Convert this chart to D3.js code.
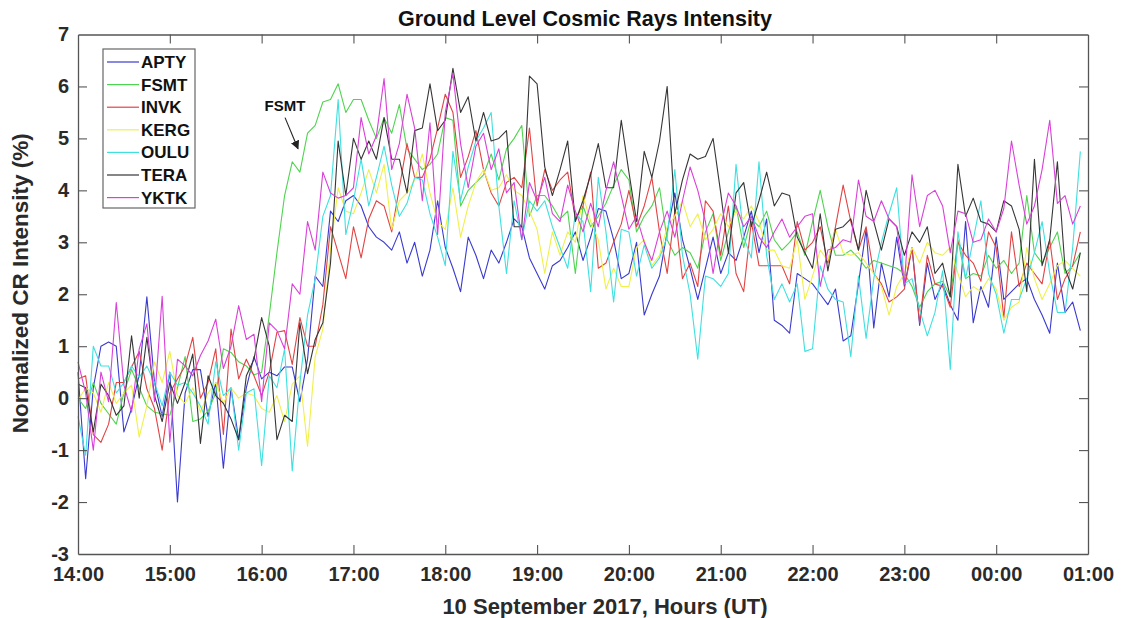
<!DOCTYPE html>
<html>
<head>
<meta charset="utf-8">
<script src="https://cdn.jsdelivr.net/npm/d3@7"></script>
<style>
  body { margin: 0; background: #fff; }
  svg text { font-family: "Liberation Sans", Arial, sans-serif; font-weight: bold; }
</style>
</head>
<body>
<div class="container"></div>
<script>
// 5-minute samples from 14:00 UT, 10 Sept 2017 (minutes after 14:00)
const stepMin = 5;
const tickLabels = ['14:00','15:00','16:00','17:00','18:00','19:00','20:00','21:00','22:00','23:00','00:00','01:00'];
const stations = ['APTY','FSMT','INVK','KERG','OULU','TERA','YKTK'];
const lineColors = ['#3a3acf','#4fd44f','#e04444','#f0f04a','#3fe0e0','#363636','#d940d9'];

const APTY = [0.5,-1.55,0.2,1.0,1.08,1.0,-0.65,-0.2,0.45,1.95,0.3,-0.35,
  0.5,-2.0,0.1,0.55,0.55,-0.35,0.3,-1.35,0.2,-0.8,0.2,0.8,
  0.37,0.5,0.43,0.6,0.6,-0.07,0.75,2.35,2.15,3.6,3.4,3.8,
  3.9,3.7,3.3,3.1,3.0,2.85,3.2,2.6,3.0,2.35,2.85,3.8,
  2.9,2.5,2.05,3.1,2.75,2.3,2.85,2.6,3.0,3.45,3.3,2.7,
  2.4,2.1,2.55,2.65,2.9,3.2,2.65,3.1,3.65,3.6,3.05,2.3,
  2.4,3.0,1.6,2.0,2.35,3.2,3.95,3.05,2.5,1.9,2.5,3.1,
  2.4,2.8,2.65,3.1,3.6,2.8,3.45,1.5,1.4,1.25,2.4,2.3,
  2.2,2.0,1.8,2.1,1.1,1.2,2.2,3.25,1.35,2.6,1.95,3.1,
  2.15,2.9,1.4,2.6,1.9,2.2,1.8,1.5,3.4,1.45,2.15,1.75,
  3.1,1.9,2.05,2.2,2.3,1.9,1.6,1.25,2.6,1.65,1.85,1.3];

const FSMT = [0.0,-0.2,0.3,-0.1,-0.3,-0.5,0.1,0.55,0.2,-0.15,-0.27,-0.3,
  -0.33,0.2,0.8,-0.45,-0.4,-0.25,0.1,0.95,0.88,0.7,0.62,0.45,
  0.5,1.6,2.8,3.9,4.55,4.35,5.1,5.25,5.7,5.75,6.05,5.5,
  5.75,5.75,5.35,5.0,5.4,5.1,5.65,4.8,4.6,4.4,4.5,4.7,
  5.4,5.35,3.7,4.0,4.15,4.3,4.7,4.2,4.8,5.0,5.25,3.5,
  3.9,3.9,3.7,3.45,3.6,2.4,3.7,3.3,3.5,3.75,4.1,4.4,
  4.2,3.2,3.5,3.7,4.05,3.05,2.75,2.9,2.8,2.5,3.2,3.55,
  2.65,3.2,3.7,2.9,3.45,3.3,3.6,3.05,2.85,3.0,3.2,2.75,
  3.4,4.0,3.3,2.75,2.75,2.85,2.7,2.5,2.65,2.6,2.55,2.5,
  2.4,2.15,1.75,2.05,2.2,2.25,1.95,3.05,2.3,2.4,2.35,2.75,
  2.5,2.65,2.4,2.6,3.9,2.8,2.6,2.9,3.2,2.4,2.55,2.8];

const INVK = [0.37,0.43,-0.7,-0.85,-0.5,0.3,0.3,0.6,0.9,0.18,-0.2,-1.0,
  0.1,0.37,0.62,1.17,0.0,0.3,0.95,-0.7,1.33,0.37,0.75,0.43,
  0.05,0.5,1.27,1.3,0.65,1.55,1.0,1.0,1.8,3.3,2.8,2.3,
  3.3,2.7,3.45,3.8,3.7,3.2,4.05,4.9,4.25,4.25,4.6,5.2,
  5.85,5.5,4.25,4.65,5.15,4.4,3.95,3.7,4.15,4.25,4.05,5.2,
  3.7,4.4,4.0,4.2,4.35,3.45,3.7,4.35,2.5,2.6,3.0,3.35,
  4.0,3.3,3.7,4.25,3.2,2.4,3.6,2.3,2.6,2.15,3.8,3.6,
  2.75,3.7,2.4,2.05,3.4,2.55,2.55,2.55,2.55,2.2,3.4,2.85,
  3.0,3.3,2.6,3.3,4.1,3.4,2.85,3.3,2.4,2.2,1.85,1.95,
  2.1,2.9,1.45,2.75,2.2,2.15,1.75,3.0,2.75,2.6,2.25,3.2,
  2.9,1.55,3.2,2.15,2.6,2.4,2.2,3.05,1.9,2.3,2.55,3.2];

const KERG = [-0.05,0.2,0.1,-0.27,0.3,-0.1,0.1,0.25,-0.75,-0.15,0.7,0.3,
  0.9,0.05,-0.1,0.2,-0.27,0.1,0.3,-0.1,0.2,0.0,0.1,0.05,
  -0.2,-0.27,0.05,-0.45,0.27,0.43,-0.93,0.8,1.33,2.85,4.05,3.6,
  3.55,3.95,4.4,3.95,4.5,3.25,3.8,3.95,4.2,4.7,3.95,3.4,
  3.25,4.05,3.1,3.7,4.15,4.4,4.0,4.05,4.3,4.0,3.9,3.6,
  3.25,2.4,3.2,2.75,3.2,3.0,3.9,3.4,3.05,2.1,2.5,2.15,
  2.15,2.9,3.05,2.55,2.75,3.3,3.5,3.8,3.3,3.55,3.05,3.25,
  3.55,3.3,3.6,3.45,3.7,3.4,2.85,2.85,2.55,2.5,3.05,1.9,
  2.35,2.85,2.65,3.25,2.8,2.75,2.8,2.6,2.4,2.15,1.6,2.15,
  2.4,2.9,2.6,3.0,2.8,2.75,2.9,2.4,1.95,2.15,2.05,2.3,
  2.1,1.5,1.75,1.85,2.9,2.3,1.9,2.2,2.55,2.65,2.5,2.35];

const OULU = [-0.35,-1.1,1.0,0.62,0.62,0.1,0.3,0.62,0.4,0.62,0.3,-0.15,
  0.5,0.25,0.3,0.1,-0.15,-0.5,0.7,0.05,0.2,-1.0,0.1,0.18,
  -1.3,0.43,0.2,0.95,-1.4,0.3,1.6,2.3,3.5,3.9,5.75,3.15,
  3.8,4.6,3.7,4.25,4.85,4.1,3.5,3.75,4.25,4.2,3.55,3.1,
  2.55,4.75,3.8,4.45,4.95,5.2,5.5,3.7,2.4,3.8,3.05,3.8,
  3.6,3.8,3.3,2.9,2.5,3.55,3.4,2.05,4.25,3.2,1.85,3.25,
  3.2,2.35,2.95,2.5,2.7,3.1,4.4,2.75,2.0,0.75,2.35,2.3,
  2.15,2.4,4.5,3.1,2.7,4.55,2.75,1.9,2.2,1.85,2.2,0.9,
  0.95,2.55,2.1,1.9,1.85,0.8,2.35,1.15,2.3,3.0,3.55,4.05,
  2.2,2.3,1.7,1.2,1.65,2.45,0.55,3.2,2.3,3.05,3.8,2.4,
  2.0,1.25,1.9,1.9,2.3,2.8,3.4,2.4,1.65,1.65,2.9,4.75];

const TERA = [0.27,0.2,-0.65,0.27,0.05,-0.33,-0.15,1.2,0.0,1.17,0.05,-0.45,
  0.3,-0.1,0.3,0.85,-0.87,0.43,0.05,-0.1,-0.4,-0.8,0.43,0.75,
  1.55,1.0,-0.8,-0.33,-0.45,1.45,0.47,1.13,1.45,2.6,4.95,3.9,
  5.0,4.6,4.95,4.6,5.4,4.6,4.6,3.95,5.15,5.2,6.05,5.15,
  5.35,6.35,5.5,5.8,4.95,5.5,4.95,5.0,5.15,3.3,3.3,6.2,
  6.05,4.45,3.9,4.4,4.95,3.4,3.8,4.3,4.9,4.05,4.05,5.35,
  4.35,3.4,4.75,4.25,4.95,6.0,3.55,4.2,4.7,4.6,4.65,5.0,
  3.95,2.8,3.95,4.15,3.3,3.8,4.35,3.7,3.95,3.9,3.1,2.8,
  2.5,3.55,2.45,3.25,3.3,3.45,2.85,4.0,3.4,2.85,3.45,3.3,
  2.75,3.2,3.0,3.3,2.4,2.6,1.95,4.5,3.5,3.85,3.4,3.35,
  3.2,3.8,3.7,3.25,2.05,4.6,2.55,3.05,4.55,2.5,2.1,2.8];

const YKTK = [0.7,0.1,-1.0,0.5,-0.07,1.84,0.25,-0.27,0.95,1.43,-0.07,1.96,
  -0.85,0.75,0.62,0.43,0.82,1.1,1.52,0.57,1.0,1.78,1.13,1.23,
  -0.07,1.45,1.3,0.95,2.2,2.0,3.4,2.85,4.35,3.95,3.85,3.9,
  4.05,5.4,4.7,5.05,6.15,4.4,4.9,5.85,5.2,3.8,5.3,3.15,
  5.5,6.25,4.9,4.05,4.85,5.1,4.4,4.8,3.95,4.15,3.05,4.15,
  3.8,4.25,3.55,3.4,4.1,3.6,3.2,3.75,3.3,4.0,4.55,3.9,
  3.25,3.5,3.0,2.65,3.2,3.6,3.1,3.8,4.45,4.0,3.4,2.4,
  3.3,3.95,3.7,3.3,3.5,3.1,2.9,3.2,3.45,3.1,3.3,3.5,
  3.55,2.15,2.85,2.9,3.05,3.0,4.2,3.5,3.4,3.8,3.45,3.3,
  2.2,4.3,3.3,3.9,4.0,3.7,2.8,3.6,3.55,3.0,3.05,3.45,
  3.2,3.65,4.95,4.1,3.35,3.7,4.4,5.35,3.75,3.9,3.35,3.7];

const seriesValues = [APTY, FSMT, INVK, KERG, OULU, TERA, YKTK];

const W = 1129, H = 618;
const margin = { left: 78, right: 41, top: 34.5, bottom: 64 };
const pw = W - margin.left - margin.right;
const ph = H - margin.top - margin.bottom;
const axisColor = '#555';
const textColor = '#2a2a2a';

const svg = d3.select('.container').append('svg')
  .attr('width', W).attr('height', H);

const x = d3.scaleLinear().domain([0, 660]).range([margin.left, margin.left + pw]);
const y = d3.scaleLinear().domain([-3, 7]).range([margin.top + ph, margin.top]);

// title and axis labels
svg.append('text')
  .attr('x', margin.left + pw / 2 + 2).attr('y', 26)
  .attr('text-anchor', 'middle').attr('font-size', '21.5px').attr('fill', '#111')
  .text('Ground Level Cosmic Rays Intensity');

svg.append('text')
  .attr('x', margin.left + pw / 2 + 22).attr('y', 614)
  .attr('text-anchor', 'middle').attr('font-size', '22px').attr('fill', textColor)
  .text('10 September 2017, Hours (UT)');

svg.append('text')
  .attr('transform', `translate(28,${margin.top + ph / 2 - 11}) rotate(-90)`)
  .attr('text-anchor', 'middle').attr('font-size', '22.5px').attr('fill', textColor)
  .text('Normalized CR Intensity (%)');

// lines
const line = d3.line()
  .x((d, i) => x(i * stepMin))
  .y(d => y(d));

const gLines = svg.append('g');
seriesValues.forEach((vals, k) => {
  gLines.append('path')
    .datum(vals)
    .attr('fill', 'none')
    .attr('stroke', lineColors[k])
    .attr('stroke-width', 1.1)
    .attr('stroke-linejoin', 'round')
    .attr('d', line);
});

// axes (ticks pointing inward, box all round)
const tickVals = tickLabels.map((t, i) => i * 60);
const xAxis = d3.axisBottom(x).tickValues(tickVals)
  .tickFormat((d, i) => tickLabels[i]).tickSizeInner(-9).tickSizeOuter(0).tickPadding(13);
const xTop = d3.axisTop(x).tickValues(tickVals).tickFormat('').tickSizeInner(-9).tickSizeOuter(0);
const yAxis = d3.axisLeft(y).ticks(10).tickFormat(d => String(d)).tickSizeInner(-9).tickSizeOuter(0).tickPadding(9);
const yRight = d3.axisRight(y).ticks(10).tickFormat('').tickSizeInner(-9).tickSizeOuter(0);

const gx = svg.append('g').attr('transform', `translate(0,${margin.top + ph})`).call(xAxis);
const gxt = svg.append('g').attr('transform', `translate(0,${margin.top})`).call(xTop);
const gy = svg.append('g').attr('transform', `translate(${margin.left},0)`).call(yAxis);
const gyr = svg.append('g').attr('transform', `translate(${margin.left + pw},0)`).call(yRight);

[gx, gxt, gy, gyr].forEach(g => {
  g.select('.domain').attr('stroke', axisColor).attr('stroke-width', 1.3);
  g.selectAll('.tick line').attr('stroke', axisColor).attr('stroke-width', 1.1);
  g.selectAll('.tick text').attr('fill', textColor).attr('font-size', '20px')
    .attr('font-family', '"Liberation Sans", Arial, sans-serif').attr('font-weight', 'bold');
});
// drop end ticks that sit on the box edges
gx.selectAll('.tick line').filter((d, i) => i === 0 || i === tickVals.length - 1).remove();
gxt.selectAll('.tick line').filter((d, i) => i === 0 || i === tickVals.length - 1).remove();
gy.selectAll('.tick line').filter(d => d === -3 || d === 7).remove();
gyr.selectAll('.tick line').filter(d => d === -3 || d === 7).remove();

// legend
const lg = svg.append('g').attr('transform', 'translate(103,49)');
lg.append('rect').attr('width', 92).attr('height', 159)
  .attr('fill', '#fff').attr('stroke', '#666').attr('stroke-width', 1.2);
stations.forEach((s, k) => {
  const yy = 13 + k * 22.6;
  lg.append('line').attr('x1', 4).attr('x2', 36).attr('y1', yy).attr('y2', yy)
    .attr('stroke', lineColors[k]).attr('stroke-width', 1.2);
  lg.append('text').attr('x', 38).attr('y', yy + 6)
    .attr('font-size', '17px').attr('fill', '#111').text(s);
});

// FSMT annotation with arrow
svg.append('defs').append('marker')
  .attr('id', 'arrow').attr('viewBox', '0 0 10 10').attr('refX', 9).attr('refY', 5)
  .attr('markerWidth', 8).attr('markerHeight', 8).attr('orient', 'auto')
  .append('path').attr('d', 'M0,0 L10,5 L0,10 z').attr('fill', '#222');

svg.append('text').attr('x', 285).attr('y', 111)
  .attr('text-anchor', 'middle').attr('font-size', '15px').attr('fill', '#111').text('FSMT');
svg.append('line')
  .attr('x1', x(20 * stepMin) + 54).attr('y1', y(5.4))
  .attr('x2', x(20 * stepMin) + 67).attr('y2', y(4.8))
  .attr('stroke', '#222').attr('stroke-width', 1.1)
  .attr('marker-end', 'url(#arrow)');
</script>
</body>
</html>
